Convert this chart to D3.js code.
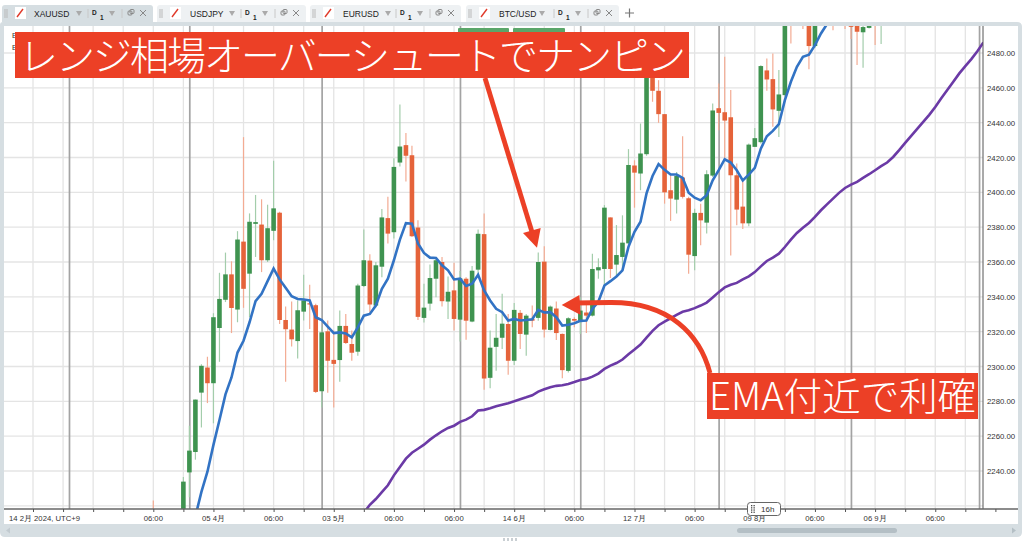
<!DOCTYPE html>
<html><head><meta charset="utf-8">
<script src="https://cdn.jsdelivr.net/npm/d3@7/dist/d3.min.js"></script>
<style>html,body{margin:0;padding:0;background:#fff;overflow:hidden}svg{display:block}text{font-family:"Liberation Sans",Arial,sans-serif}</style>
</head><body><svg id="c" width="1024" height="543"></svg>
<script>
// candle values, one entry per session, starting at session index 20
const firstCandle = 20;
const opens = [
2205,2190,2185,2190,2200,2210,2239.2,2250.9,2285,2299.4,
2290.4,2322.1,2338.3,2352.9,2332.7,2371.7,2353.3,2381.9,2381.5,2361,
2377.9,2388.3,2326.7,2321.2,2314.6,2331.5,2336.3,2335.2,2285.8,2320.2,
2303.8,2303.7,2323.3,2312.9,2308.5,2346.2,2360.8,2335,2357.3,2385.2,
2377.1,2417.1,2427.1,2421.3,2379.8,2327.9,2336.1,2350.4,2360,2337.3,
2343.7,2326.9,2350.4,2325.8,2355.6,2376,2293.5,2311.3,2316.5,2324.4,
2303.3,2330.8,2318.3,2327.3,2327.9,2360.2,2321,2333.3,2318.7,2297.5,
2327.3,2326,2331,2329.2,2355.2,2356,2385.6,2358.5,2362.9,2370.7,
2415.4,2410.8,2421.9,2480,2458.3,2444.9,2401.2,2395.8,2408.5,2396.6,
2363.4,2388.2,2382.6,2409.6,2448.3,2446,2443.1,2409.8,2391.8,2382.2,
2426.1,2428.8,2470,2465,2446.8,2455.8,2515,2520,2515,2505,
2484,2510,2515,2510,2512,2508,2505,2500,2491.9,2494.4,
2510,2500];
const highs = [
2223,2200,2195,2205,2212,2236.5,2266,2281,2301.3,2305.6,
2330.6,2353.8,2365.4,2360.4,2377.7,2431.7,2387.9,2398.5,2396,2392.9,
2418.1,2388.8,2334.4,2337.3,2337.9,2352.7,2346.9,2336,2322.5,2326.4,
2320.6,2332.1,2330.2,2320.6,2347.5,2378.7,2364.4,2360,2390.4,2397.5,
2419.6,2450.4,2434,2426.7,2384,2347.5,2358.5,2362,2362.9,2351.7,
2359.6,2354.8,2351.3,2357.7,2378.7,2387.9,2320.6,2330.2,2341.7,2330.2,
2336.5,2332.5,2330.2,2335,2365.4,2369,2335,2337.3,2319,2328.3,
2328.3,2339.8,2336,2364.8,2362.1,2392.7,2385.6,2381.2,2386.8,2424.8,
2418.4,2439.5,2490,2488,2464.4,2445,2410.8,2411.7,2432.2,2397.4,
2390.6,2393.5,2412.7,2451,2462.5,2477.8,2458.7,2416.5,2406.9,2428,
2437,2473,2476.9,2479.7,2470.2,2510,2520,2530,2525,2515,
2510,2520,2525,2520,2520,2515,2515,2510,2498,2505,
2520,2510];
const lows = [
2190,2180,2175,2180,2192,2205,2225,2246.5,2265,2279,
2267.4,2302.7,2337,2319.2,2325.4,2333.7,2328.3,2362.9,2354.2,2360,
2372.5,2324.4,2291.3,2311.5,2304.6,2326.4,2321.5,2284.8,2276.4,2285,
2276.4,2291.3,2312.9,2303.3,2306.2,2345.6,2331.1,2334,2351.3,2370.6,
2373.5,2414.8,2406.2,2374.4,2326.7,2325.2,2332.1,2339.8,2334.4,2327.3,
2320.6,2314.4,2315.4,2325.4,2352.3,2286.7,2287.5,2297.5,2310,2295.2,
2300.9,2310,2306.2,2322.5,2326.3,2316.7,2320.6,2315.2,2293.3,2296.5,
2322.5,2318.7,2319.2,2328.7,2350.4,2346.5,2350.8,2351.3,2355.2,2369.6,
2391.2,2401.2,2421,2452,2439.9,2393.5,2383.6,2387.8,2396.4,2353.3,
2355.2,2369.6,2376.3,2408.8,2435.7,2419.4,2363.8,2381.1,2379,2380.5,
2426,2428,2458.3,2437.6,2431.8,2455,2485.5,2505,2493.8,2470.6,
2483,2505,2500,2493,2505,2493.8,2488,2473.1,2471.6,2494,
2484.6,2485.2];
const closes = [
2195,2185,2190,2200,2208,2233.9,2251.7,2281,2300.4,2290.4,
2328.3,2338.8,2352.9,2333.6,2372.9,2344.6,2383.1,2382.9,2361,2379.4,
2390.8,2326.7,2321.4,2315.6,2332.3,2337.9,2335.6,2285.4,2319.6,2303.3,
2301.5,2323.3,2313.5,2307.9,2346.5,2361,2335.6,2358.1,2385.6,2376.3,
2414.6,2426.3,2421,2374.8,2328.5,2333.8,2350.8,2361,2337.5,2342.9,
2327.3,2350.6,2326.3,2355,2376.2,2293.1,2310.8,2316.5,2324.6,2303.3,
2332.5,2318.7,2329.2,2326.3,2360,2321.2,2334.4,2319.2,2297.9,2327.7,
2326.3,2332.1,2329.2,2356,2357,2391.2,2356,2364,2371.1,2415.7,
2411.3,2422.3,2480,2458.3,2444.9,2400,2396.4,2409.4,2397.4,2364.2,
2388.2,2383.9,2410.4,2447,2445.6,2441.2,2409.8,2390.1,2382.2,2427.4,
2431.1,2472.5,2464.8,2447.6,2456.2,2500,2505,2515,2505,2484,
2500,2505,2510,2500,2515,2500,2495,2492.2,2494.9,2500,
2500,2505];
// short moving average, starting at session 27
const firstBlue = 27;
const blueLine = [
2214,2228,2239.6,2255,2269.3,2284,2293.7,2308,2314.8,2325.4,
2337.5,2341.7,2349,2356.2,2350,2345.2,2340.4,2338.8,2338.5,2337.9,
2328.3,2326.7,2322.9,2319.2,2319.6,2319,2316.7,2322.5,2329.2,2330.2,
2335,2344.6,2350.4,2361,2372.9,2382.3,2382,2370.6,2365.2,2362.5,
2362.3,2358.1,2355.2,2350,2350.4,2346.2,2347.5,2352.7,2343.7,2337.9,
2333.1,2331.2,2326.4,2327.3,2326.4,2326.7,2327.1,2332.5,2331,2331.2,
2328.3,2323.5,2324,2324.8,2326.2,2326.4,2333.1,2337.3,2346.5,2349,
2351.7,2355.2,2368.7,2377.3,2383.1,2399.4,2409.4,2416.2,2412.9,2410.2,
2410.2,2408.3,2399.8,2396.9,2395.4,2398.3,2406.9,2412.7,2419,2417.1,
2412.7,2406.9,2410.2,2414,2425.1,2432.2,2435.3,2439.1,2452.9,2463.5,
2472.1,2477.8,2479,2484.5,2491.2,2496.6,2503];
// long EMA, starting at session 55
const firstPurple = 55;
const purpleLine = [
2216,2220.6,2223.9,2227.9,2231.8,2237.5,2242.3,2247.1,2250.5,2252.8,
2255.1,2258,2260.5,2262.8,2264.7,2266,2268.2,2269.5,2271.4,2274.7,
2275.1,2276,2277.2,2278.1,2278.9,2280,2281.2,2282.3,2283.5,2285.6,
2286.9,2288.1,2288.9,2289.2,2290,2291.1,2292.3,2292.9,2294.2,2295.9,
2298.6,2300.5,2302,2304,2307,2309.7,2312.6,2316.6,2320.5,2323.7,
2325.8,2327.7,2329.7,2331.4,2332.3,2333.5,2335,2336.7,2339.6,2342.7,
2345.4,2346.9,2348,2350,2351.8,2354.2,2357.5,2360.6,2362.5,2364.8,
2368.6,2372.8,2376.7,2379.7,2382.4,2385.9,2389.7,2393.1,2396.4,2399.7,
2402.5,2404.4,2406,2408.3,2410.4,2412.7,2415,2417.1,2420.3,2424.2,
2428.4,2432.4,2436.4,2440.5,2444.5,2449,2454,2458.7,2463.5,2468.3,
2472.5,2476.5,2481,2486];
const priceTicks = [2240,2260,2280,2300,2320,2340,2360,2380,2400,2420,2440,2460,2480];
const gridPrices = [2220].concat(priceTicks);
const timeLabels = ["14 2月 2024, UTC+9","06:00","05 4月","06:00","03 5月","06:00","06:00","14 6月","06:00","12 7月","06:00","09 8月","06:00","06 9月","06:00"];
const timeLabelSessions = [-4,20,30,40,50,60,70,80,90,100,110,120,130,140,150];
const separators = [6,26,48,71,91,114,136,157.3];
const tabNames = ["XAUUSD","USDJPY","EURUSD","BTC/USD"];
const tabLefts = [2,157,310,466];
const tabRights = [153,306,461,619];
const labelTop = "レンジ相場オーバーシュートでナンピン";
const labelRight = "EMA付近で利確";

const C = {green:"#3f9350",orange:"#e5633a",gw:"#a3cdab",ow:"#f3ab93",red:"#ec4026",frame:"#d6dee2",grid:"#e4e4e4",sep:"#a3a3a3",blue:"#3273c4",purple:"#6b3aa6"};
const svg = d3.select("#c");
const L=4,R=983,T=26,B=509;
const x = d3.scaleLinear().domain([0,160]).range([33,33+160*6.015]);
const y = d3.scaleLinear().domain([2240,2480]).range([471,53]);

// window frame
svg.append("path").attr("fill",C.frame)
  .attr("d","M3,22H1017Q1022,22 1022,27V532Q1022,537 1017,537H5Q0,537 0,532V25Q0,22 3,22Z");
svg.append("rect").attr("x",L).attr("y",T).attr("width",1018-L).attr("height",524-T).attr("fill","#fff");

const defs = svg.append("defs");
defs.append("clipPath").attr("id","plot").append("rect").attr("x",L).attr("y",T).attr("width",R-L).attr("height",B-T);

// grid
const plot = svg.append("g").attr("clip-path","url(#plot)");
const vTicks = d3.range(0,161,5);
plot.selectAll("line.v").data(vTicks).join("line").attr("x1",d=>x(d)).attr("x2",d=>x(d)).attr("y1",T).attr("y2",B).attr("stroke",C.grid).attr("stroke-width",1.3);
plot.selectAll("line.h").data(gridPrices).join("line").attr("x1",L).attr("x2",R).attr("y1",d=>y(d)).attr("y2",d=>y(d)).attr("stroke",C.grid).attr("stroke-width",1.3);
plot.selectAll("line.s").data(separators).join("line").attr("x1",d=>x(d)+0.4).attr("x2",d=>x(d)+0.4).attr("y1",T).attr("y2",B).attr("stroke",C.sep).attr("stroke-width",1.7);

// candles
const candles = opens.map((o,i)=>({n:firstCandle+i,o,h:highs[i],l:lows[i],c:closes[i]}));
plot.selectAll("line.w").data(candles).join("line")
  .attr("x1",d=>x(d.n)).attr("x2",d=>x(d.n)).attr("y1",d=>y(d.h)).attr("y2",d=>y(d.l))
  .attr("stroke",d=>d.c>=d.o?C.gw:C.ow).attr("stroke-width",1.2);
plot.selectAll("rect.b").data(candles).join("rect")
  .attr("x",d=>x(d.n)-2.3).attr("width",4.6)
  .attr("y",d=>y(Math.max(d.o,d.c))).attr("height",d=>Math.max(1.2,Math.abs(y(d.o)-y(d.c))))
  .attr("fill",d=>d.c>=d.o?C.green:C.orange);

// moving averages
const line = d3.line().x(d=>x(d[0])).y(d=>y(d[1]));
plot.append("path").attr("d",line(blueLine.map((v,i)=>[firstBlue+i,v]))).attr("fill","none").attr("stroke",C.blue).attr("stroke-width",2.6);
plot.append("path").attr("d",line(purpleLine.map((v,i)=>[firstPurple+i,v]))).attr("fill","none").attr("stroke",C.purple).attr("stroke-width",2.6);

// axes
svg.append("line").attr("x1",R).attr("x2",R).attr("y1",T).attr("y2",B).attr("stroke","#555").attr("stroke-width",1);
svg.append("line").attr("x1",L).attr("x2",1018).attr("y1",B).attr("y2",B).attr("stroke","#666").attr("stroke-width",1.4);
const axisY = d3.axisRight(y).tickValues(priceTicks).tickSize(0).tickPadding(4).tickFormat(d3.format(".2f"));
const gy = svg.append("g").attr("transform",`translate(${R},0)`).call(axisY);
gy.select(".domain").remove();
gy.selectAll("text").attr("font-size",7.8).attr("fill","#333").style("font-family",'"Liberation Sans",Arial,sans-serif');
const axisX = d3.axisBottom(x).tickValues(vTicks.filter(d=>x(d)<1018)).tickSize(3).tickFormat("");
const gx = svg.append("g").attr("transform",`translate(0,${B})`).call(axisX);
gx.select(".domain").remove();
gx.selectAll("line").attr("stroke","#555");
svg.selectAll("text.t").data(timeLabels).join("text")
  .attr("x",(d,i)=>i===0?9:x(timeLabelSessions[i])).attr("y",521)
  .attr("text-anchor",(d,i)=>i===0?"start":"middle")
  .attr("font-size",7.7).attr("fill","#333").text(d=>d);

// clutter peeking out behind labels
svg.append("text").attr("x",12).attr("y",38).attr("font-size",7.5).attr("fill","#333").text("E");
svg.append("text").attr("x",12).attr("y",50).attr("font-size",7.5).attr("fill","#333").text("E");
[[458,509],[513,565]].forEach(a=>svg.append("rect").attr("x",a[0]).attr("y",28).attr("width",a[1]-a[0]).attr("height",5).attr("rx",1).attr("fill","#5aa66a"));

// scrollbar
svg.append("rect").attr("x",737).attr("y",528).attr("width",160).attr("height",5).attr("rx",2.5).attr("fill","#b4bfc5");
svg.append("path").attr("d","M6,530.5L10,527.5V533.5Z").attr("fill","#c2cbd0");
svg.append("path").attr("d","M1016,530.5L1012,527.5V533.5Z").attr("fill","#b4bfc5");
[503,507,511,515].forEach(px=>svg.append("rect").attr("x",px).attr("y",538).attr("width",2).attr("height",3).attr("fill","#c9cfd3"));

// 16h badge
svg.append("rect").attr("x",747.5).attr("y",502.5).attr("width",33).attr("height",13).attr("rx",3).attr("fill","#fff").attr("stroke","#666");
svg.append("text").attr("x",761).attr("y",512).attr("font-size",8).attr("fill","#333").text("16h");
d3.range(4).forEach(r=>[751,753.5].forEach(px=>svg.append("rect").attr("x",px).attr("y",505+r*2.2).attr("width",1.3).attr("height",1.3).attr("fill","#444")));

// tabs
tabNames.forEach((name,i)=>{
  const a=tabLefts[i], b=tabRights[i], g=svg.append("g");
  g.append("path").attr("d",`M${a},22V8Q${a},5 ${a+3},5H${b-3}Q${b},5 ${b},8V22Z`).attr("fill",i===0?"#d6dee2":"#eef1f3");
  [a+3,a+5].forEach(px=>g.append("line").attr("x1",px).attr("x2",px).attr("y1",9).attr("y2",18).attr("stroke","#b9b9b9"));
  const ix=a+13;
  g.append("rect").attr("x",ix).attr("y",7).attr("width",11).attr("height",12).attr("fill","#fff");
  g.append("line").attr("x1",ix+2).attr("x2",ix+8).attr("y1",17).attr("y2",9).attr("stroke","#e03a2a").attr("stroke-width",1.4);
  g.append("text").attr("x",a+(i===0?32:33)).attr("y",16.5).attr("font-size",8.5).attr("fill","#222").text(name);
  const r=b;
  const arrow=(cx,col)=>g.append("path").attr("d",`M${cx-3},11H${cx+3}L${cx},16Z`).attr("fill",col);
  arrow(a+ (i===3?76:i===2?78:i===1?75:77),"#aaa");
  g.append("line").attr("x1",r-65).attr("x2",r-65).attr("y1",9).attr("y2",18).attr("stroke","#c8c8c8");
  g.append("text").attr("x",r-61).attr("y",14.5).attr("font-size",6.5).attr("font-weight","bold").attr("fill","#222").text("D");
  g.append("text").attr("x",r-53).attr("y",19.5).attr("font-size",6.5).attr("font-weight","bold").attr("fill","#222").text("1");
  arrow(r-41,"#aaa");
  g.append("line").attr("x1",r-31).attr("x2",r-31).attr("y1",9).attr("y2",18).attr("stroke","#c8c8c8");
  g.append("rect").attr("x",r-25).attr("y",11).attr("width",4).attr("height",4).attr("rx",1).attr("fill","none").attr("stroke","#888");
  g.append("rect").attr("x",r-23).attr("y",9.5).attr("width",4).attr("height",4).attr("rx",1).attr("fill","none").attr("stroke","#888");
  g.append("path").attr("d",`M${r-13},10L${r-7},16M${r-7},10L${r-13},16`).attr("stroke","#888").attr("fill","none");
});
svg.append("path").attr("d","M625,13H634M629.5,8.5V17.5").attr("stroke","#777").attr("stroke-width",1.2);

// annotations
svg.append("rect").attr("x",15).attr("y",32).attr("width",674).attr("height",46).attr("fill",C.red);
svg.append("text").attr("x",19).attr("y",70).attr("font-size",39).attr("fill","#fff").attr("font-weight",300)
  .attr("textLength",667).attr("lengthAdjust","spacing")
  .style("font-family",'"Noto Sans CJK JP","Noto Sans",sans-serif').text(labelTop);
svg.append("line").attr("x1",485).attr("y1",78).attr("x2",532).attr("y2",232).attr("stroke",C.red).attr("stroke-width",4.8);
svg.append("path").attr("d","M523,233L540.7,228L537,247.7Z").attr("fill",C.red);

svg.append("path").attr("d","M710,373C700,335 670,302 610,302.5L575,303").attr("fill","none").attr("stroke",C.red).attr("stroke-width",4.8);
svg.append("path").attr("d","M561.7,305L579.4,295L580.7,315Z").attr("fill",C.red);
svg.append("rect").attr("x",707).attr("y",373).attr("width",271).attr("height",46).attr("fill",C.red);
svg.append("text").attr("x",709).attr("y",410).attr("font-size",38).attr("fill","#fff").attr("font-weight",300)
  .attr("textLength",267).attr("lengthAdjust","spacingAndGlyphs")
  .style("font-family",'"Noto Sans CJK JP","Noto Sans",sans-serif').text(labelRight);
</script></body></html>
